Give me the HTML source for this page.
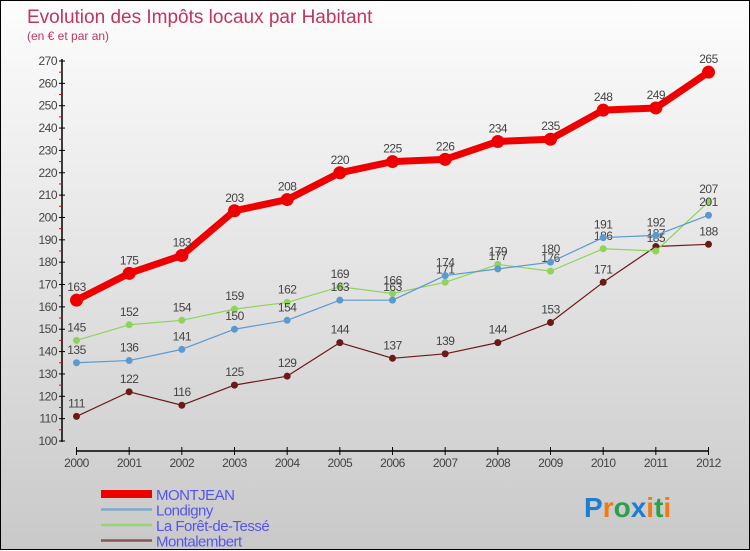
<!DOCTYPE html>
<html><head><meta charset="utf-8"><style>
html,body{margin:0;padding:0}
body{width:750px;height:550px;overflow:hidden;font-family:"Liberation Sans",sans-serif}
#wrap{position:relative;width:748px;height:548px;border:1px solid #000;background:linear-gradient(#fdfdfd,#c9c9c9)}
svg{position:absolute;left:0;top:0}
</style></head><body>
<div id="wrap">
<svg id="chart" width="750" height="550">
<text x="26" y="22" font-size="19" fill="#c0355e">Evolution des Impôts locaux par Habitant</text>
<text x="26" y="39" font-size="12" fill="#c0355e">(en € et par an)</text>
<g id="axes"></g><g id="series"></g><g id="legend"></g>
<text x="583" y="516" font-size="28" font-weight="bold"><tspan fill="#1a7fd0">P</tspan><tspan fill="#f07a10">r</tspan><tspan fill="#2aa04a">o</tspan><tspan fill="#1a7fd0">x</tspan><tspan fill="#f07a10">i</tspan><tspan fill="#2aa04a">t</tspan><tspan fill="#f07a10">i</tspan></text>
</svg>
</div>
<script>
const years=[2000,2001,2002,2003,2004,2005,2006,2007,2008,2009,2010,2011,2012];
const yTicks=[100,110,120,130,140,150,160,170,180,190,200,210,220,230,240,250,260,270];
const montjean=[163,175,183,203,208,220,225,226,234,235,248,249,265];
const londigny=[135,136,141,150,154,163,163,174,177,180,191,192,201];
const foret=[145,152,154,159,162,169,166,171,179,176,186,185,207];
const montalembert=[111,122,116,125,129,144,137,139,144,153,171,187,188];
const NS="http://www.w3.org/2000/svg";
function X(i){return 75.5+i*(632/(years.length-1));}
function Y(v){return 440-(v-100)*(380/170);}
function mk(tag,attrs,parent,txt){const e=document.createElementNS(NS,tag);for(const k in attrs)e.setAttribute(k,attrs[k]);if(txt!==undefined)e.textContent=txt;parent.appendChild(e);return e;}
const ax=document.getElementById('axes');
let e=mk('line',{x1:61,y1:Y(270)-2,x2:61,y2:441,stroke:'#000','stroke-width':1.5},ax);


yTicks.forEach(v=>{
 mk('line',{x1:58,y1:Y(v),x2:64,y2:Y(v),stroke:'#000'},ax);
 if(v<270) mk('line',{x1:58,y1:Y(v+5),x2:61,y2:Y(v+5),stroke:'#e00'},ax);
 const t=mk('text',{x:56,y:Y(v)+4,'font-size':12,fill:'#444','text-anchor':'end','letter-spacing':'-0.5'},ax,v);
 
 
});
e=mk('line',{x1:75,y1:450,x2:708,y2:450,stroke:'#000','stroke-width':1.5},ax);


years.forEach((y,i)=>{
 mk('line',{x1:X(i),y1:446,x2:X(i),y2:454,stroke:'#000'},ax);
 const t=mk('text',{x:X(i),y:466,'font-size':12,fill:'#444','text-anchor':'middle','letter-spacing':'-0.5'},ax,y);
 
 
});
const sg=document.getElementById('series');
function draw(data,color,w,r,name,labels){
 const g=mk('g',{},sg);
 
 
 const p=mk('polyline',{points:data.map((v,i)=>X(i)+','+Y(v)).join(' '),fill:'none',stroke:color,'stroke-width':w,'stroke-linejoin':'round'},g);
 
 
 data.forEach((v,i)=>{
  const c=mk('circle',{cx:X(i),cy:Y(v),r:r,fill:color},g);
  
  
  if(labels){const t=mk('text',{x:X(i),y:Y(v)-9,'font-size':12,fill:'#444','text-anchor':'middle','letter-spacing':'-0.5'},g,v);
  
  }
 });
}
draw(montalembert,'#6b1a1a',1.2,3.5,'montalembert',true);
draw(foret,'#8fd45a',1.2,3.5,'la-foret-de-tesse',true);
draw(londigny,'#5a9ad0',1.2,3.5,'londigny',true);
draw(montjean,'#ee0000',7,6.5,'montjean',true);
const lg=document.getElementById('legend');
const items=[['MONTJEAN','#ee0000',8],['Londigny','#7fa9cc',2.5],['La Forêt-de-Tessé','#99d477',2.5],['Montalembert','#8a5555',2.5]];
items.forEach((it,i)=>{
 const y=493+i*15.5;
 const g=mk('g',{},lg);
 
 
 mk('line',{x1:100,y1:y,x2:151,y2:y,stroke:it[1],'stroke-width':it[2]},g);
 mk('text',{x:155,y:y+6,'font-size':15,fill:'#5555ee','letter-spacing':'-0.5'},g,it[0]);
});
</script>
</body></html>
